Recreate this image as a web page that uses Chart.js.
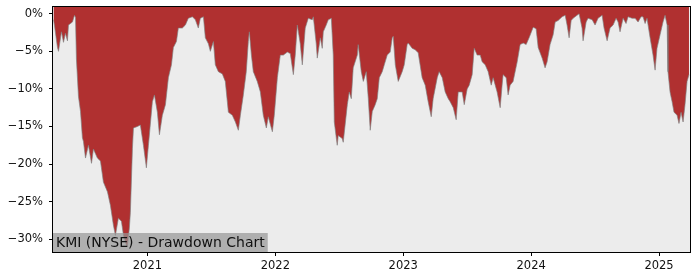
<!DOCTYPE html>
<html>
<head>
<meta charset="utf-8">
<script src="https://cdn.jsdelivr.net/npm/chart.js@4"></script>
<style>
  body { margin: 0; background: #fff; }
</style>
</head>
<body>
<canvas id="ddChart" width="700" height="280"></canvas>
<script>
const ctx = document.getElementById('ddChart');

// dates as decimal years, drawdown in percent
const dates = [
  2020.266, 2020.273, 2020.297, 2020.305, 2020.328, 2020.344, 2020.359, 2020.375, 2020.383, 2020.414,
  2020.430, 2020.438, 2020.445, 2020.461, 2020.477, 2020.492, 2020.500, 2020.516, 2020.539, 2020.563,
  2020.578, 2020.609, 2020.633, 2020.656, 2020.688, 2020.711, 2020.734, 2020.750, 2020.773, 2020.797,
  2020.813, 2020.836, 2020.844, 2020.859, 2020.867, 2020.883, 2020.891, 2020.922, 2020.945, 2020.969,
  2020.992, 2021.008, 2021.039, 2021.055, 2021.078, 2021.094, 2021.117, 2021.141, 2021.164, 2021.188,
  2021.203, 2021.227, 2021.242, 2021.273, 2021.297, 2021.320, 2021.352, 2021.375, 2021.398, 2021.414,
  2021.438, 2021.453, 2021.477, 2021.492, 2021.516, 2021.531, 2021.555, 2021.586, 2021.609, 2021.633,
  2021.664, 2021.688, 2021.711, 2021.727, 2021.750, 2021.773, 2021.789, 2021.797, 2021.813, 2021.828,
  2021.859, 2021.883, 2021.906, 2021.930, 2021.945, 2021.977, 2021.992, 2022.016, 2022.039, 2022.063,
  2022.094, 2022.117, 2022.141, 2022.156, 2022.172, 2022.195, 2022.211, 2022.234, 2022.258, 2022.289,
  2022.297, 2022.320, 2022.328, 2022.352, 2022.367, 2022.375, 2022.398, 2022.414, 2022.438, 2022.453,
  2022.461, 2022.484, 2022.492, 2022.523, 2022.531, 2022.563, 2022.578, 2022.594, 2022.609, 2022.641,
  2022.648, 2022.672, 2022.688, 2022.711, 2022.727, 2022.742, 2022.758, 2022.781, 2022.797, 2022.813,
  2022.836, 2022.852, 2022.875, 2022.898, 2022.914, 2022.922, 2022.938, 2022.961, 2022.992, 2023.008,
  2023.031, 2023.039, 2023.070, 2023.094, 2023.117, 2023.148, 2023.172, 2023.195, 2023.219, 2023.234,
  2023.266, 2023.281, 2023.305, 2023.328, 2023.352, 2023.367, 2023.391, 2023.414, 2023.430, 2023.461,
  2023.477, 2023.500, 2023.516, 2023.539, 2023.555, 2023.578, 2023.602, 2023.617, 2023.641, 2023.664,
  2023.688, 2023.703, 2023.734, 2023.758, 2023.773, 2023.781, 2023.805, 2023.820, 2023.836, 2023.859,
  2023.891, 2023.914, 2023.938, 2023.961, 2023.984, 2024.016, 2024.039, 2024.055, 2024.086, 2024.109,
  2024.125, 2024.148, 2024.172, 2024.188, 2024.211, 2024.242, 2024.266, 2024.281, 2024.297, 2024.313,
  2024.328, 2024.359, 2024.375, 2024.398, 2024.406, 2024.430, 2024.445, 2024.477, 2024.500, 2024.523,
  2024.555, 2024.570, 2024.594, 2024.617, 2024.641, 2024.664, 2024.680, 2024.695, 2024.719, 2024.742,
  2024.758, 2024.789, 2024.813, 2024.836, 2024.859, 2024.875, 2024.891, 2024.906, 2024.930, 2024.953,
  2024.969, 2024.984, 2025.008, 2025.031, 2025.047, 2025.063, 2025.070, 2025.086, 2025.102, 2025.117,
  2025.141, 2025.156, 2025.172, 2025.188, 2025.203, 2025.219, 2025.234
];
const drawdown = [
  -0.8, -1.5, -4.5, -5.0, -2.4, -3.8, -2.6, -3.6, -1.5, -1.1,
  -0.2, -0.5, -6.0, -11.0, -13.0, -16.5, -17.0, -19.2, -17.5, -19.9,
  -18.0, -19.2, -19.6, -22.4, -23.7, -25.5, -28.1, -29.5, -27.2, -27.6,
  -29.5, -30.8, -31.0, -28.5, -26.4, -17.9, -15.2, -15.0, -14.8, -17.5,
  -20.5, -17.5, -11.7, -10.8, -13.1, -16.1, -13.5, -12.1, -8.5, -6.8,
  -4.5, -3.7, -1.9, -1.9, -1.5, -0.6, -0.4, -0.8, -1.9, -0.6,
  -0.4, -3.2, -4.0, -5.0, -3.7, -6.8, -7.7, -8.0, -9.0, -13.1,
  -13.5, -14.4, -15.5, -13.5, -10.8, -7.7, -3.7, -2.4, -5.5, -7.7,
  -9.0, -10.4, -13.5, -15.2, -13.7, -15.7, -13.5, -8.5, -5.5, -5.5,
  -5.1, -5.3, -8.1, -5.5, -1.5, -4.0, -6.8, -1.9, -0.6, -0.8,
  -0.4, -4.0, -5.9, -3.2, -4.6, -2.4, -1.5, -0.8, -0.6, -5.5,
  -14.4, -17.5, -16.2, -16.6, -17.1, -12.1, -10.4, -11.3, -7.2, -5.5,
  -4.1, -7.7, -9.0, -7.7, -11.3, -15.5, -13.0, -12.1, -11.3, -8.5,
  -7.7, -6.8, -5.5, -5.1, -3.2, -3.0, -6.8, -9.0, -7.7, -6.8,
  -4.1, -3.9, -4.6, -4.8, -5.2, -8.5, -9.5, -11.7, -13.7, -11.3,
  -8.5, -7.7, -8.5, -10.4, -11.3, -11.7, -12.5, -14.1, -10.4, -10.4,
  -12.1, -10.0, -9.5, -8.1, -4.6, -5.5, -5.5, -6.4, -6.8, -7.7,
  -9.5, -8.5, -10.4, -12.5, -9.5, -8.1, -8.5, -10.8, -9.5, -9.0,
  -6.4, -4.1, -3.9, -4.1, -3.2, -1.8, -2.0, -4.5, -5.9, -7.2,
  -6.4, -4.1, -2.8, -1.1, -0.9, -0.4, -0.2, -1.5, -3.2, -0.9,
  -0.6, -0.2, 0.0, -1.9, -3.6, -1.1, -0.6, -0.8, -1.5, -0.6,
  -0.2, -1.9, -3.6, -1.9, -1.5, -0.6, -1.1, -2.4, -0.6, -1.3,
  -0.4, -0.6, -0.6, -1.1, -0.4, -0.4, -1.3, -0.6, -3.2, -5.5,
  -7.5, -4.6, -2.8, -1.1, -0.2, -1.5, -7.7, -10.4, -11.7, -13.1,
  -13.5, -14.6, -13.1, -14.4, -12.1, -9.0, -8.1
];
const xTicks = [2021, 2022, 2023, 2024, 2025];
const yTicks = [0, -5, -10, -15, -20, -25, -30];
const chartLabel = 'KMI (NYSE) - Drawdown Chart';

// fondo gris, marco negro y etiqueta abajo a la izquierda
const framePlugin = {
  id: 'frame',
  beforeDraw(chart) {
    const a = chart.chartArea;
    const c = chart.ctx;
    c.save();
    c.fillStyle = '#ececec';
    c.fillRect(a.left, a.top, a.right - a.left, a.bottom - a.top);
    c.restore();
  },
  afterDraw(chart) {
    const a = chart.chartArea;
    const c = chart.ctx;
    c.save();
    c.font = '14px "DejaVu Sans"';
    const w = c.measureText(chartLabel).width;
    c.fillStyle = 'rgba(150,150,150,0.7)';
    c.fillRect(a.left, a.bottom - 19, w + 6, 19);
    c.fillStyle = '#111';
    c.textBaseline = 'alphabetic';
    c.fillText(chartLabel, a.left + 3, a.bottom - 5);
    c.strokeStyle = '#000';
    c.lineWidth = 1;
    c.strokeRect(a.left - 0.5, a.top - 0.5, a.right - a.left + 1, a.bottom - a.top + 1);
    c.restore();
  }
};

new Chart(ctx, {
  type: 'line',
  data: {
    datasets: [{
      data: dates.map((d, i) => ({ x: d, y: drawdown[i] })),
      fill: 'end',
      backgroundColor: '#b03030',
      borderColor: 'rgba(128,128,128,0.65)',
      borderWidth: 1,
      pointRadius: 0,
      tension: 0,
    }]
  },
  options: {
    responsive: false,
    animation: false,
    devicePixelRatio: 1,
    layout: { padding: { top: 7, right: 10, left: 0, bottom: 0 } },
    plugins: {
      legend: { display: false },
      tooltip: { enabled: false },
    },
    scales: {
      x: {
        type: 'linear',
        min: 2020.262,
        max: 2025.242,
        afterBuildTicks: scale => { scale.ticks = xTicks.map(v => ({ value: v })); },
        afterFit: scale => { scale.height = 28; scale.paddingLeft = 0; scale.paddingRight = 0; },
        ticks: {
          color: '#111',
          font: { family: 'DejaVu Sans', size: 11.5 },
          padding: 3,
          maxRotation: 0,
          callback: v => String(v),
        },
        grid: { drawOnChartArea: false, tickLength: 4, color: '#000' },
        border: { display: false },
      },
      y: {
        min: -31.7,
        max: 0.9,
        afterBuildTicks: scale => { scale.ticks = yTicks.map(v => ({ value: v })); },
        afterFit: scale => { scale.width = 53; scale.paddingTop = 0; scale.paddingBottom = 0; },
        ticks: {
          color: '#111',
          font: { family: 'DejaVu Sans', size: 11.5 },
          padding: 6,
          callback: v => (v === 0 ? '0%' : '\u2212' + Math.abs(v) + '%'),
        },
        grid: { drawOnChartArea: false, tickLength: 4, color: '#000' },
        border: { display: false },
      }
    }
  },
  plugins: [framePlugin]
});
</script>
</body>
</html>
